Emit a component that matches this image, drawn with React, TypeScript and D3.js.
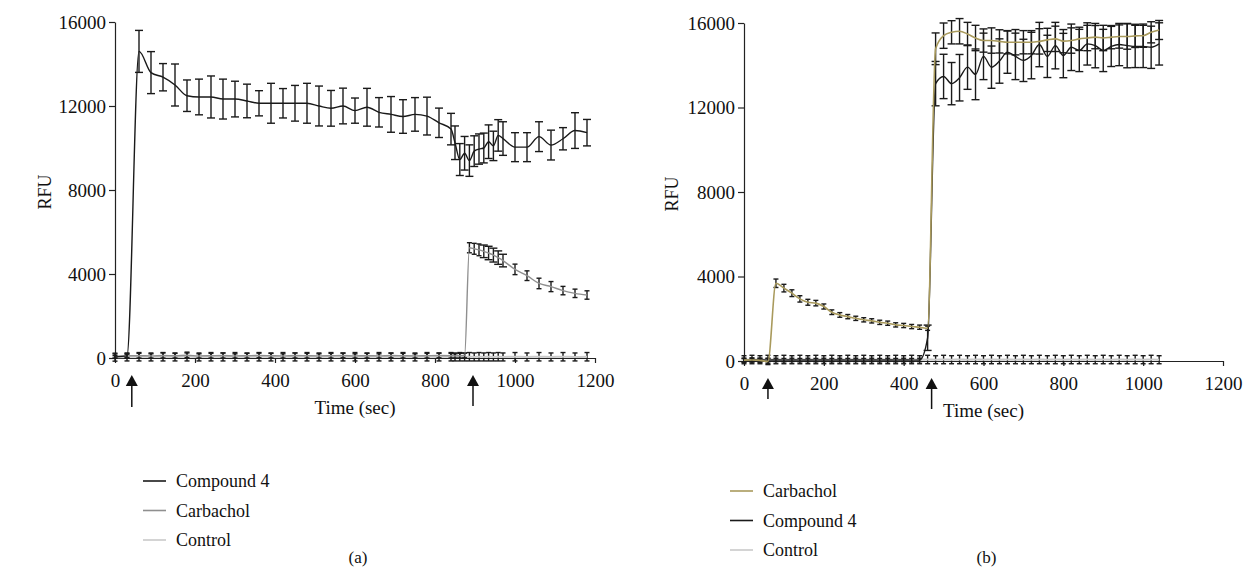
import { useEffect, useRef } from 'react';
import * as d3 from 'd3';

const W = 1245;
const H = 571;
const FONT = 'Liberation Serif, Times New Roman, serif';

const xTicks = [0, 200, 400, 600, 800, 1000, 1200];
const yTicks = [0, 4000, 8000, 12000, 16000];

// ---- panel (a) ----
const timeA = [
  0, 30, 60, 90, 120, 150, 180, 210, 240, 270, 300, 330, 360, 390, 420, 450, 480, 510, 540, 570,
  600, 630, 660, 690, 720, 750, 780, 810, 840,
  850, 862, 874, 886, 898, 910, 922, 934, 946, 958, 970,
  1000, 1030, 1060, 1090, 1120, 1150, 1180,
];
const compoundA = [
  50, 100, 14600, 13590, 13370, 13000, 12490, 12430, 12430, 12330, 12330, 12240, 12130, 12130, 12130, 12130, 12130, 12000, 11890, 12000,
  11780, 11940, 11700, 11600, 11500, 11600, 11520, 11200, 10900,
  10250, 9450, 9750, 9400, 9850, 9950, 10000, 10300, 10100, 10600, 10450,
  10040, 10040, 10540, 10140, 10440, 10830, 10730,
];
const compoundAErr = [
  60, 80, 1000, 1000, 650, 1000, 750, 850, 1000, 950, 850, 800, 600, 950, 700, 850, 950, 950, 850, 850,
  600, 900, 700, 850, 800, 800, 900, 700, 750,
  800, 760, 800, 750, 730, 720, 710, 800, 700, 750, 800,
  690, 690, 710, 710, 530, 850, 630,
];
const carbacholA = [
  90, 100, 110, 100, 120, 110, 130, 100, 110, 120, 100, 110, 120, 110, 100, 120, 110, 100, 110, 120,
  100, 110, 100, 120, 110, 100, 110, 120, 110,
  100, 110, 120, 5250, 5200, 5150, 5080, 5000, 4900, 4780, 4640,
  4220, 3920, 3550, 3400, 3210, 3080, 3000,
];
const carbacholAErr = [
  100, 110, 110, 100, 120, 110, 110, 100, 110, 120, 100, 110, 110, 110, 100, 120, 110, 100, 110, 110,
  100, 110, 100, 110, 110, 100, 110, 110, 110,
  100, 110, 110, 240, 260, 280, 300, 320, 330, 320, 300,
  250, 230, 250, 240, 200, 200, 200,
];
const controlA = [
  40, 50, 60, 50, 60, 50, 70, 50, 60, 50, 60, 50, 60, 50, 60, 50, 60, 50, 60, 50,
  60, 50, 60, 50, 60, 50, 60, 50, 60,
  50, 60, 50, 60, 50, 60, 50, 60, 50, 60, 50,
  60, 50, 60, 50, 60, 50, 60,
];
const controlAErr = [
  190, 190, 200, 190, 200, 190, 210, 190, 200, 190, 200, 190, 200, 190, 200, 190, 200, 190, 200, 190,
  200, 190, 200, 190, 200, 190, 200, 190, 200,
  190, 200, 190, 200, 190, 200, 190, 200, 190, 200, 190,
  200, 190, 200, 190, 200, 190, 200,
];
const arrowsA = [42, 895];

// ---- panel (b) ----
const timeB = [
  0, 20, 40, 60, 80, 100, 120, 140, 160, 180, 200, 220, 240, 260, 280, 300, 320, 340, 360, 380,
  400, 420, 440, 460, 480, 500, 520, 540, 560, 580, 600, 620, 640, 660, 680, 700, 720, 740, 760, 780,
  800, 820, 840, 860, 880, 900, 920, 940, 960, 980, 1000, 1020, 1040,
];
const carbacholB = [
  40, 50, 30, -20, 3680, 3450, 3210, 2940, 2780, 2740, 2580, 2310, 2180, 2100, 2020, 1950, 1900, 1830, 1790, 1710,
  1680, 1630, 1600, 1550, 14780, 15400, 15560, 15610, 15480, 15290, 15170, 15170, 15130, 15090, 15090, 15090, 15090, 15130, 15200, 15250,
  15140, 15170, 15250, 15290, 15330, 15290, 15330, 15360, 15360, 15390, 15400, 15560, 15670,
];
const carbacholBErr = [
  100, 100, 100, 150, 200, 180, 160, 150, 140, 130, 120, 110, 110, 100, 100, 100, 100, 100, 100, 100,
  100, 100, 100, 100, 750, 600, 550, 600, 550, 600, 550, 600, 550, 550, 600, 550, 550, 600, 550, 600,
  550, 600, 550, 600, 550, 600, 550, 550, 600, 550, 550, 500, 450,
];
const compoundB = [
  30, 40, 50, 40, 50, 40, 50, 40, 50, 40, 50, 40, 50, 40, 50, 40, 50, 40, 50, 40,
  50, 40, 50, 1100, 13130, 13470, 13130, 13410, 13910, 13570, 14420, 13910, 14200, 14620, 14420, 14230, 14460, 14980, 14420, 14930,
  14460, 14850, 14700, 15010, 14930, 14700, 14890, 14980, 14930, 14890, 14890, 14850, 15010,
];
const compoundBErr = [
  80, 80, 80, 80, 80, 80, 80, 80, 80, 80, 80, 80, 80, 80, 80, 80, 80, 80, 80, 80,
  80, 80, 80, 600, 1050, 1050, 1000, 1100, 1050, 1200, 1100, 1000, 1050, 1000, 1100, 1000, 1100, 1050, 1000, 1100,
  1050, 1100, 1000, 1000, 1050, 1000, 950, 1000, 1050, 1000, 1000, 1000, 1000,
];
const controlB = [
  60, 70, 60, 70, 60, 70, 60, 70, 60, 70, 60, 70, 60, 70, 60, 70, 60, 70, 60, 70,
  60, 70, 60, 70, 60, 70, 60, 70, 60, 70, 60, 70, 60, 70, 60, 70, 60, 70, 60, 70,
  60, 70, 60, 70, 60, 70, 60, 70, 60, 70, 60, 70, 60,
];
const controlBErr = [
  190, 200, 190, 200, 190, 200, 190, 200, 190, 200, 190, 200, 190, 200, 190, 200, 190, 200, 190, 200,
  190, 200, 190, 200, 190, 200, 190, 200, 190, 200, 190, 200, 190, 200, 190, 200, 190, 200, 190, 200,
  190, 200, 190, 200, 190, 200, 190, 200, 190, 200, 190, 200, 190,
];
const arrowsB = [60, 470];

const BLACK = '#1a1a1a';
const GRAY = '#8f8f8f';
const LIGHT = '#c9c9c9';
const OLIVE = '#a99a5c';

const panels = [
  {
    label: '(a)', x0: 115, x1: 595, y0: 358, y1: 22,
    series: [
      { name: 'Control', t: timeA, v: controlA, e: controlAErr, color: LIGHT, w: 2 },
      { name: 'Carbachol', t: timeA, v: carbacholA, e: carbacholAErr, color: GRAY, w: 1.4 },
      { name: 'Compound 4', t: timeA, v: compoundA, e: compoundAErr, color: BLACK, w: 1.4 },
    ],
    legend: ['Compound 4', 'Carbachol', 'Control'],
    legendX: 143, legendY: 481,
    arrows: arrowsA, arrowLen: [49, 48],
    rfuX: 51,
  },
  {
    label: '(b)', x0: 744, x1: 1223, y0: 361, y1: 23,
    series: [
      { name: 'Control', t: timeB, v: controlB, e: controlBErr, color: LIGHT, w: 2.2 },
      { name: 'Compound 4', t: timeB, v: compoundB, e: compoundBErr, color: BLACK, w: 1.4 },
      { name: 'Carbachol', t: timeB, v: carbacholB, e: carbacholBErr, color: OLIVE, w: 1.6 },
    ],
    legend: ['Carbachol', 'Compound 4', 'Control'],
    legendX: 730, legendY: 491,
    arrows: arrowsB, arrowLen: [38, 48],
    rfuX: 678,
  },
];

function App() {
  const svgRef = useRef(null);

  useEffect(() => {
    const svg = d3.select(svgRef.current);
    svg.selectAll('*').remove();

    panels.forEach(p => {
      const x = d3.scaleLinear().domain([0, 1200]).range([p.x0, p.x1]);
      const y = d3.scaleLinear().domain([0, 16000]).range([p.y0, p.y1]);
      const g = svg.append('g');

      // axes (no thousands separator)
      const ax = g.append('g')
        .attr('transform', `translate(0,${p.y0})`)
        .call(d3.axisBottom(x).tickValues(xTicks).tickFormat(d3.format('d')).tickSize(5).tickSizeOuter(0).tickPadding(11));
      const ay = g.append('g')
        .attr('transform', `translate(${p.x0},0)`)
        .call(d3.axisLeft(y).tickValues(yTicks).tickFormat(d3.format('d')).tickSize(6).tickSizeOuter(0).tickPadding(3));
      [ax, ay].forEach(a => {
        a.attr('font-family', FONT).attr('font-size', 19);
        a.selectAll('path,line').attr('stroke', '#222').attr('stroke-width', 1.2);
        a.selectAll('text').attr('fill', '#111');
      });

      // series: error bars then line
      p.series.forEach(s => {
        const pts = s.t.map((t, i) => ({ t, v: s.v[i], e: s.e[i] }));
        const eb = g.append('g').attr('stroke', BLACK).attr('stroke-width', 1.4);
        pts.forEach(d => {
          const cx = x(d.t);
          const top = y(d.v + d.e);
          const bot = y(d.v - d.e);
          const cap = d.e < 300 ? 2.5 : 4;
          eb.append('line').attr('x1', cx).attr('x2', cx).attr('y1', top).attr('y2', bot);
          eb.append('line').attr('x1', cx - cap).attr('x2', cx + cap).attr('y1', top).attr('y2', top);
          eb.append('line').attr('x1', cx - cap).attr('x2', cx + cap).attr('y1', bot).attr('y2', bot);
        });
        const line = d3.line().x(d => x(d.t)).y(d => y(d.v)).curve(d3.curveMonotoneX);
        g.append('path')
          .attr('d', line(pts))
          .attr('fill', 'none')
          .attr('stroke', s.color)
          .attr('stroke-width', s.w);
      });

      // arrows marking additions
      p.arrows.forEach((t, i) => {
        const ax0 = x(t);
        const top = p.y0 + 17;
        g.append('path')
          .attr('d', `M${ax0},${top}L${ax0 - 6},${top + 11}L${ax0 + 6},${top + 11}Z`)
          .attr('fill', '#111');
        g.append('line')
          .attr('x1', ax0).attr('x2', ax0)
          .attr('y1', top + 10).attr('y2', p.y0 + p.arrowLen[i])
          .attr('stroke', '#111').attr('stroke-width', 1.5);
      });

      // axis titles
      g.append('text')
        .attr('x', (p.x0 + p.x1) / 2).attr('y', p.y0 + 56)
        .attr('text-anchor', 'middle')
        .attr('font-family', FONT).attr('font-size', 19).attr('fill', '#111')
        .text('Time (sec)');
      g.append('text')
        .attr('transform', `translate(${p.rfuX},${(p.y0 + p.y1) / 2 + 2}) rotate(-90)`)
        .attr('text-anchor', 'middle')
        .attr('font-family', FONT).attr('font-size', 18).attr('fill', '#111')
        .text('RFU');

      // legend
      p.legend.forEach((name, i) => {
        const s = p.series.find(d => d.name === name);
        const ly = p.legendY + i * 29.5;
        g.append('line')
          .attr('x1', p.legendX).attr('x2', p.legendX + 23)
          .attr('y1', ly).attr('y2', ly)
          .attr('stroke', s.color).attr('stroke-width', 1.6);
        g.append('text')
          .attr('x', p.legendX + 33).attr('y', ly + 6)
          .attr('font-family', FONT).attr('font-size', 18).attr('fill', '#111')
          .text(name);
      });

      // caption
      g.append('text')
        .attr('x', (p.x0 + p.x1) / 2 + 3).attr('y', 563)
        .attr('text-anchor', 'middle')
        .attr('font-family', FONT).attr('font-size', 17).attr('fill', '#111')
        .text(p.label);
    });
  }, []);

  return (
    <div style={{ position: 'absolute', left: 0, top: 0 }}>
      <svg ref={svgRef} width={W} height={H} style={{ display: 'block', background: '#fff' }}></svg>
    </div>
  );
}

export default App;
